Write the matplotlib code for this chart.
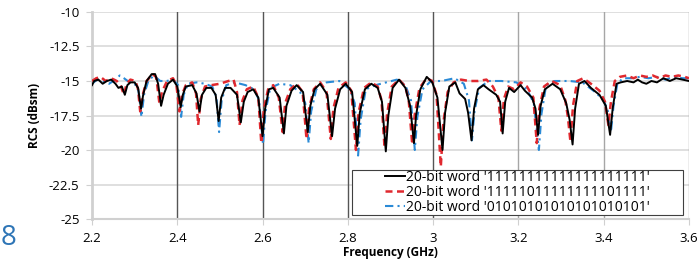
import matplotlib
matplotlib.use("Agg")
import matplotlib.pyplot as plt
from matplotlib.patches import Rectangle

plt.rcParams['font.family'] = ['Open Sans', 'DejaVu Sans']

# Series 1: 20-bit word '11111111111111111111' (black)
f_black = [2.200, 2.205, 2.215, 2.225, 2.235, 2.245, 2.255, 2.262, 2.270, 2.277, 2.283, 2.290,
           2.300, 2.308, 2.315, 2.320, 2.328, 2.340, 2.348, 2.355, 2.362, 2.368, 2.378, 2.390,
           2.400, 2.408, 2.413, 2.420, 2.435, 2.445, 2.452, 2.458, 2.468, 2.480, 2.490, 2.497,
           2.503, 2.512, 2.525, 2.540, 2.549, 2.556, 2.565, 2.578, 2.590, 2.600, 2.606, 2.615,
           2.625, 2.640, 2.650, 2.656, 2.668, 2.680, 2.695, 2.706, 2.712, 2.722, 2.735, 2.752,
           2.763, 2.770, 2.782, 2.795, 2.810, 2.822, 2.828, 2.840, 2.855, 2.870, 2.880, 2.889,
           2.895, 2.905, 2.920, 2.935, 2.946, 2.955, 2.960, 2.970, 2.985, 2.998, 3.010, 3.022,
           3.028, 3.038, 3.052, 3.062, 3.075, 3.082, 3.090, 3.096, 3.105, 3.118, 3.130, 3.148,
           3.157, 3.163, 3.169, 3.178, 3.190, 3.205, 3.215, 3.232, 3.240, 3.246, 3.252, 3.262,
           3.280, 3.298, 3.312, 3.320, 3.327, 3.333, 3.342, 3.355, 3.370, 3.390, 3.405, 3.415,
           3.421, 3.430, 3.440, 3.455, 3.470, 3.480, 3.490, 3.500, 3.512, 3.525, 3.540, 3.555,
           3.570, 3.585, 3.600]
v_black = [-15.3, -15.0, -14.9, -15.2, -15.0, -14.9, -15.2, -15.5, -15.4, -16.0, -15.3, -15.1,
           -15.1, -15.5, -17.0, -16.0, -15.0, -14.5, -14.5, -15.2, -16.8, -16.0, -15.2, -14.9,
           -15.4, -16.9, -16.0, -15.4, -15.3, -15.9, -17.2, -16.0, -15.5, -15.5, -16.0, -17.9,
           -16.2, -15.5, -15.5, -16.0, -18.0, -16.5, -15.8, -15.6, -16.2, -19.0, -17.0, -15.6,
           -15.5, -16.2, -18.8, -16.8, -15.7, -15.3, -15.8, -18.7, -16.8, -15.6, -15.2, -16.0,
           -19.0, -17.0, -15.6, -15.2, -15.8, -19.7, -17.3, -15.6, -15.2, -15.5, -16.5, -20.1,
           -17.5, -15.5, -14.9, -15.5, -16.8, -19.5, -17.5, -15.6, -14.7, -15.1, -16.2, -20.0,
           -17.3, -15.4, -15.1, -15.9, -16.3, -17.3, -19.3, -17.0, -15.6, -15.3, -15.6, -16.0,
           -16.5, -18.8, -16.5, -15.5, -15.8, -15.3, -15.7, -16.2, -17.0, -18.9, -16.8, -15.6,
           -15.2, -15.6, -16.6, -17.8, -19.6, -17.0, -15.2, -15.0, -15.5, -16.0, -16.8, -18.9,
           -17.0, -15.2, -15.1, -15.0, -15.1, -14.9, -15.1, -15.2, -15.0, -15.1, -14.8, -15.0,
           -14.8, -14.9, -15.0]

# Series 2: 20-bit word '11111011111111101111' (red)
f_red = [2.200, 2.210, 2.220, 2.232, 2.245, 2.258, 2.268, 2.275, 2.281, 2.290, 2.302, 2.308,
         2.313, 2.319, 2.328, 2.342, 2.350, 2.353, 2.358, 2.364, 2.376, 2.390, 2.398, 2.405,
         2.411, 2.420, 2.435, 2.444, 2.449, 2.455, 2.465, 2.480, 2.500, 2.520, 2.532, 2.540,
         2.546, 2.553, 2.563, 2.578, 2.590, 2.597, 2.603, 2.613, 2.625, 2.638, 2.647, 2.653,
         2.665, 2.680, 2.694, 2.703, 2.709, 2.720, 2.735, 2.750, 2.760, 2.766, 2.778, 2.795,
         2.808, 2.819, 2.825, 2.838, 2.855, 2.870, 2.879, 2.886, 2.892, 2.903, 2.920, 2.935,
         2.943, 2.951, 2.957, 2.968, 2.985, 2.998, 3.008, 3.018, 3.024, 3.034, 3.048, 3.065,
         3.085, 3.105, 3.125, 3.140, 3.153, 3.160, 3.166, 3.176, 3.190, 3.205, 3.220, 3.235,
         3.243, 3.249, 3.260, 3.278, 3.298, 3.310, 3.316, 3.322, 3.328, 3.338, 3.352, 3.370,
         3.390, 3.403, 3.411, 3.417, 3.426, 3.438, 3.455, 3.470, 3.485, 3.500, 3.515, 3.530,
         3.545, 3.560, 3.575, 3.590, 3.600]
v_red = [-15.0, -14.8, -14.7, -15.0, -14.8, -15.0, -15.4, -16.0, -15.2, -14.9, -15.0, -15.6,
         -17.2, -16.0, -15.0, -14.5, -14.7, -15.3, -16.6, -15.8, -15.0, -14.8, -15.3, -17.2,
         -16.0, -15.3, -15.1, -15.9, -18.2, -16.3, -15.4, -15.3, -15.2, -15.0, -14.9, -15.8,
         -18.2, -16.4, -15.6, -15.4, -16.2, -19.5, -17.0, -15.6, -15.3, -16.2, -18.7, -16.6,
         -15.6, -15.2, -15.8, -19.2, -17.0, -15.6, -15.1, -15.8, -19.2, -17.0, -15.5, -15.1,
         -15.7, -20.0, -17.3, -15.5, -15.1, -15.4, -16.4, -19.8, -17.4, -15.4, -14.9, -15.4,
         -16.5, -19.6, -17.4, -15.5, -14.8, -15.0, -16.0, -21.2, -18.0, -15.8, -15.1, -14.9,
         -15.0, -15.0, -14.9, -15.4, -16.2, -18.6, -16.3, -15.4, -15.6, -15.1, -15.4, -16.2,
         -19.5, -17.0, -15.4, -15.0, -15.3, -16.4, -17.6, -19.4, -16.8, -15.0, -14.8, -15.2,
         -15.7, -16.5, -18.2, -16.5, -15.0, -14.7, -14.6, -14.8, -14.6, -14.7, -14.6, -14.8,
         -14.6, -14.7, -14.6, -14.7, -14.8]

# Series 3: 20-bit word '01010101010101010101' (blue)
f_blue = [2.200, 2.212, 2.225, 2.240, 2.255, 2.265, 2.275, 2.288, 2.300, 2.309, 2.316, 2.322,
          2.332, 2.345, 2.360, 2.375, 2.390, 2.402, 2.409, 2.415, 2.425, 2.445, 2.465, 2.482,
          2.492, 2.498, 2.504, 2.515, 2.535, 2.560, 2.580, 2.592, 2.601, 2.607, 2.618, 2.640,
          2.665, 2.688, 2.700, 2.708, 2.714, 2.726, 2.750, 2.780, 2.805, 2.816, 2.824, 2.830,
          2.842, 2.865, 2.890, 2.915, 2.935, 2.948, 2.957, 2.963, 2.975, 2.995, 3.020, 3.050,
          3.072, 3.084, 3.091, 3.097, 3.108, 3.130, 3.160, 3.195, 3.220, 3.236, 3.248, 3.254,
          3.265, 3.285, 3.320, 3.350, 3.380, 3.400, 3.410, 3.417, 3.423, 3.432, 3.445, 3.465,
          3.485, 3.505, 3.525, 3.545, 3.565, 3.585, 3.600]
v_blue = [-15.2, -14.9, -15.0, -15.2, -14.9, -14.6, -14.8, -15.1, -15.2, -15.7, -17.6, -16.0,
          -15.0, -14.6, -15.0, -15.0, -14.9, -15.3, -17.6, -16.0, -15.2, -15.1, -15.2, -15.4,
          -16.2, -18.7, -16.4, -15.3, -15.1, -15.3, -15.6, -16.4, -19.6, -17.2, -15.5, -15.2,
          -15.3, -15.8, -16.6, -19.5, -17.2, -15.6, -15.1, -15.0, -15.6, -16.6, -20.4, -17.8,
          -15.6, -15.3, -15.1, -14.9, -15.3, -16.4, -20.0, -17.6, -15.6, -15.0, -15.0, -14.8,
          -15.2, -16.4, -19.3, -17.2, -15.5, -15.0, -15.0, -15.1, -15.6, -16.6, -20.0, -17.4,
          -15.3, -15.0, -15.0, -15.1, -15.8, -16.4, -17.2, -18.7, -16.8, -15.2, -14.8, -14.8,
          -14.7, -14.8, -14.7, -14.9, -14.7, -14.8, -14.8]

labels = ["20-bit word '11111111111111111111'",
          "20-bit word '11111011111111101111'",
          "20-bit word '01010101010101010101'"]

x_ticks = [2.2, 2.4, 2.6, 2.8, 3.0, 3.2, 3.4, 3.6]
x_tick_labels = ['2.2', '2.4', '2.6', '2.8', '3', '3.2', '3.4', '3.6']
y_ticks = [-25, -22.5, -20, -17.5, -15, -12.5, -10]
y_tick_labels = ['-25', '-22.5', '-20', '-17.5', '-15', '-12.5', '-10']

fig = plt.figure(figsize=(6.97, 2.59), dpi=100)
ax = fig.add_axes([0.132, 0.1544, 0.8565, 0.7993])

ax.set_xlim(2.2, 3.6)
ax.set_ylim(-25, -10)

# gridlines
for y in y_ticks[1:]:
    ax.axhline(y, color='#d9d9d9', lw=1.2, zorder=0)
vcols = ['#d0d0d0', '#555555', '#555555', '#555555', '#555555', '#a6a6a6', '#a6a6a6', '#a6a6a6']
for x, c in zip(x_ticks, vcols):
    if x > 2.2:
        ax.axvline(x, color=c, lw=1.0, zorder=0)

ax.plot(f_black, v_black, color='black', lw=1.4, label=labels[0], zorder=4)
ax.plot(f_red, v_red, color='#e0282e', lw=1.8, ls=(0, (2.8, 1.8)), label=labels[1], zorder=3)
ax.plot(f_blue, v_blue, color='#2a8ad6', lw=1.5, ls=(0, (4, 2, 1, 2)), label=labels[2], zorder=2)

ax.set_xticks(x_ticks)
ax.set_xticklabels(x_tick_labels, fontsize=9.5)
ax.set_yticks(y_ticks)
ax.set_yticklabels(y_tick_labels, fontsize=9.5)
ax.tick_params(axis='both', length=4, color='#d0d0d0')
ax.tick_params(axis='x', pad=5)
ax.tick_params(axis='y', pad=5)

for s in ['top', 'right']:
    ax.spines[s].set_visible(False)
ax.spines['left'].set_color('#d0d0d0')
ax.spines['left'].set_linewidth(2)
ax.spines['bottom'].set_color('#d0d0d0')
ax.spines['bottom'].set_linewidth(1.5)

ax.set_xlabel('Frequency (GHz)', fontsize=8.5, fontweight='bold', labelpad=1)
ax.set_ylabel('RCS (dBsm)', fontsize=8.5, fontweight='bold', labelpad=6)

# legend box (Excel-like, wide padding)
box = Rectangle((0.4355, 0.019), 0.5545, 0.218, transform=ax.transAxes,
                facecolor='white', edgecolor='#404040', lw=0.8, zorder=5)
ax.add_patch(box)
leg = ax.legend(loc='center', bbox_to_anchor=(0.4355 + 0.5545 / 2, 0.019 + 0.109),
                fontsize=10, frameon=False, handlelength=1.4, handletextpad=0.1,
                borderpad=0.0, labelspacing=0.0, borderaxespad=0.0)
leg.set_zorder(6)

fig.text(0.001, 0.08, '8', fontsize=20, color='#2e75b6', ha='left', va='center')

fig.savefig('out.png', dpi=100)
